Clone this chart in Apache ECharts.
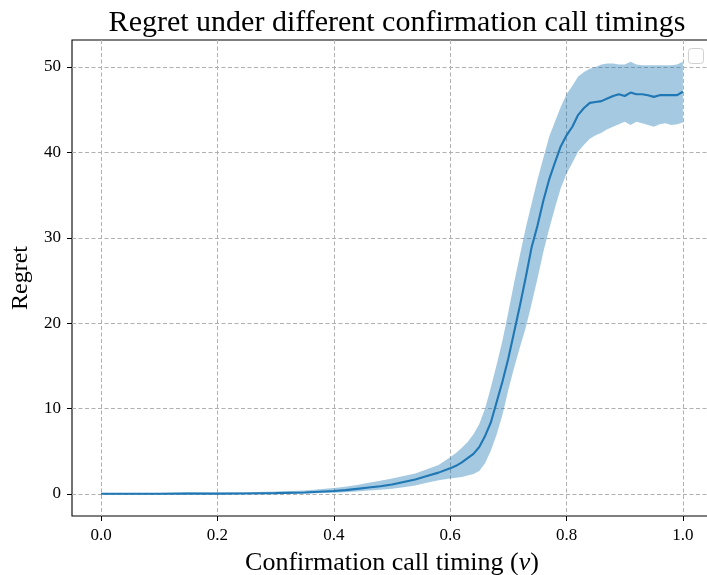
<!DOCTYPE html>
<html>
<head>
<meta charset="utf-8">
<script src="https://cdn.jsdelivr.net/npm/echarts@6/dist/echarts.min.js"></script>
<style>
html,body{margin:0;padding:0;background:#fff;}
#chart{width:707px;height:575px;}
</style>
</head>
<body>
<div id="chart"></div>
<script>
// Data
var timings = [0, 0.05, 0.1, 0.15, 0.2, 0.25, 0.3, 0.35, 0.4, 0.42, 0.44, 0.46, 0.48, 0.5, 0.52, 0.54, 0.56, 0.58,
  0.6, 0.61, 0.62, 0.63, 0.64, 0.65, 0.66, 0.67, 0.68, 0.69, 0.7, 0.71, 0.72, 0.73, 0.74, 0.75, 0.76, 0.77, 0.78, 0.79,
  0.8, 0.81, 0.82, 0.83, 0.84, 0.85, 0.86, 0.87, 0.88, 0.89, 0.9, 0.91, 0.92, 0.93, 0.94, 0.95, 0.96, 0.97, 0.98, 0.99, 1.0];
var regretMean = [0.02, 0.02, 0.02, 0.06, 0.04, 0.05, 0.1, 0.18, 0.35, 0.45, 0.6, 0.75, 0.9, 1.1, 1.4, 1.7, 2.1, 2.5,
  3.0, 3.3, 3.7, 4.2, 4.7, 5.5, 6.8, 8.4, 10.8, 13.2, 15.9, 19.0, 22.1, 25.4, 28.9, 31.4, 34.3, 36.8, 38.8, 40.7,
  42.0, 43.0, 44.4, 45.2, 45.8, 45.9, 46.0, 46.3, 46.6, 46.8, 46.6, 47.0, 46.8, 46.8, 46.7, 46.5, 46.7, 46.7, 46.7, 46.7, 47.1];
var regretUpper = [0.1, 0.1, 0.12, 0.2, 0.15, 0.2, 0.3, 0.4, 0.7, 0.85, 1.05, 1.3, 1.55, 1.8, 2.1, 2.4, 2.9, 3.4,
  4.3, 4.8, 5.4, 6.1, 7.0, 8.2, 10.0, 12.5, 15.2, 18.0, 21.3, 24.8, 28.0, 31.2, 34.0, 36.8, 39.3, 41.8, 43.6, 45.3,
  46.8, 47.8, 48.9, 49.4, 49.8, 50.0, 50.3, 50.4, 50.4, 50.3, 50.3, 50.6, 50.3, 50.2, 50.2, 50.2, 50.2, 50.2, 50.2, 50.3, 50.6];
var regretLower = [-0.05, -0.05, -0.05, 0, -0.03, 0, 0, 0.05, 0.15, 0.2, 0.3, 0.4, 0.5, 0.6, 0.8, 1.0, 1.3, 1.6,
  1.8, 1.9, 2.0, 2.15, 2.35, 2.7, 3.6, 5.1, 7.0, 9.3, 12.2, 14.8, 17.2, 19.5, 22.3, 25.2, 28.3, 31.0, 33.5, 35.8,
  37.5, 38.8, 40.1, 40.9, 41.6, 42.0, 42.3, 42.7, 43.0, 43.3, 43.6, 43.2, 43.6, 43.4, 43.2, 43.0, 43.3, 43.4, 43.2, 43.3, 43.5];
var xTicks = [0, 0.2, 0.4, 0.6, 0.8, 1.0];
var yTicks = [0, 10, 20, 30, 40, 50];

var serif = '"Liberation Serif", "DejaVu Serif", serif';
var chart = echarts.init(document.getElementById('chart'), null, {renderer: 'canvas'});

var meanData = timings.map(function (t, i) { return [t, regretMean[i]]; });
var gridColor = '#b0b0b0';

chart.setOption({
  animation: false,
  backgroundColor: '#ffffff',
  title: {
    text: 'Regret under different confirmation call timings',
    left: 392, top: 3, textAlign: 'center',
    textStyle: {fontFamily: serif, fontSize: 30, fontWeight: 'normal', color: '#000'}
  },
  grid: {
    left: 72, top: 40, right: -5, bottom: 59,
    containLabel: false, outerBoundsMode: 'none',
    show: true, borderColor: '#000', borderWidth: 1.1, backgroundColor: 'transparent'
  },
  xAxis: {
    type: 'value', min: -0.05, max: 1.05,
    name: '{n|Confirmation call timing (}{i|v}{n|)}', nameLocation: 'middle', nameGap: 34,
    nameTextStyle: {
      fontFamily: serif, fontSize: 26, color: '#000',
      rich: {
        n: {fontFamily: serif, fontSize: 26, color: '#000'},
        i: {fontFamily: serif, fontSize: 26, color: '#000', fontStyle: 'italic'}
      }
    },
    axisLine: {show: false, onZero: false},
    axisTick: {show: true, customValues: xTicks, length: 5, inside: false, lineStyle: {color: '#000', width: 1}},
    axisLabel: {customValues: xTicks, margin: 11, fontFamily: serif, fontSize: 17, color: '#000',
      formatter: function (v) { return v.toFixed(1); }},
    splitLine: {show: true, lineStyle: {color: gridColor, type: [4, 2.5], width: 1}}
  },
  yAxis: {
    type: 'value', min: -2.58, max: 53.16,
    name: 'Regret', nameLocation: 'middle', nameGap: 39, nameRotate: 90,
    nameTextStyle: {fontFamily: serif, fontSize: 24, color: '#000'},
    axisLine: {show: false, onZero: false},
    axisTick: {show: true, customValues: yTicks, length: 5, inside: false, lineStyle: {color: '#000', width: 1}},
    axisLabel: {customValues: yTicks, margin: 11, fontFamily: serif, fontSize: 17, color: '#000'},
    splitLine: {show: true, lineStyle: {color: gridColor, type: [4, 2.5], width: 1}}
  },
  graphic: [{
    type: 'rect', left: 688, top: 48, z: 100,
    shape: {width: 15, height: 15, r: 3},
    style: {fill: 'rgba(255,255,255,0.8)', stroke: '#d0d0d0', lineWidth: 1}
  }],
  series: [
    {
      type: 'custom', z: 2, silent: true,
      data: [[0, 0]],
      renderItem: function (params, api) {
        var pts = [];
        for (var i = 0; i < timings.length; i++) pts.push(api.coord([timings[i], regretUpper[i]]));
        for (var j = timings.length - 1; j >= 0; j--) pts.push(api.coord([timings[j], regretLower[j]]));
        return {type: 'polygon', shape: {points: pts}, style: {fill: 'rgba(31,119,180,0.4)', stroke: 'none'}};
      }
    },
    {
      type: 'line', z: 3, data: meanData, showSymbol: false, symbol: 'none',
      lineStyle: {color: '#1f77b4', width: 2.1}, itemStyle: {color: '#1f77b4'}
    }
  ]
});
</script>
</body>
</html>
